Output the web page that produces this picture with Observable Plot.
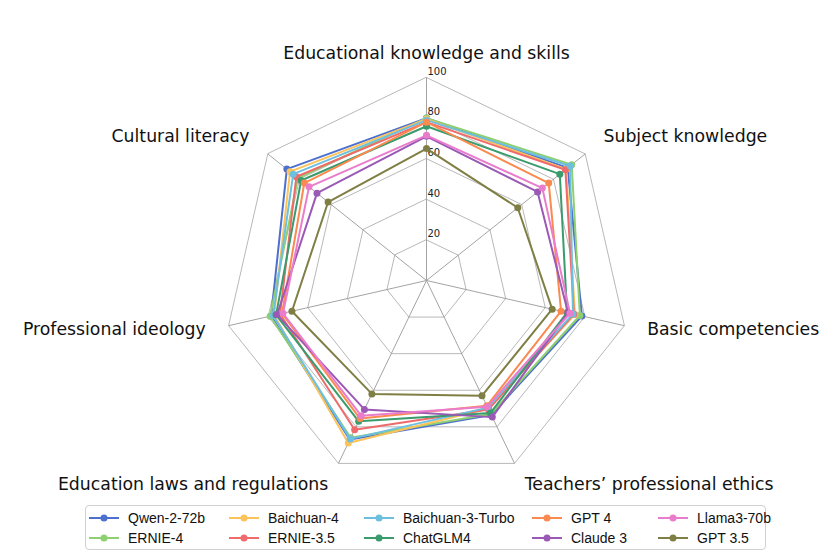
<!DOCTYPE html>
<html>
<head>
<meta charset="utf-8">
<script src="https://cdn.jsdelivr.net/npm/d3@7"></script>
<script src="https://cdn.jsdelivr.net/npm/@observablehq/plot@0.6"></script>
<style>
  html, body { margin: 0; padding: 0; background: #fff; }
  #wrap { width: 830px; height: 554px; position: relative; }
  #legend {
    position: absolute; left: 85px; top: 505px; width: 681px; height: 45px;
    box-sizing: border-box; border: 1px solid #d0d0d0; border-radius: 4px;
    display: grid; grid-template-rows: 20px 20px; grid-auto-flow: column;
    grid-template-columns: 140px 135px 168px 126px auto;
    padding: 2px 0 0 3px; font-family: "Liberation Sans", Arial, sans-serif; font-size: 14px; color: #111;
  }
  .item { display: flex; align-items: center; white-space: nowrap; }
  .item svg { margin-right: 9px; }
</style>
</head>
<body>
<div id="wrap"><div id="chart"></div><div id="legend"></div></div>
<script>
const axesLabels = ["Educational knowledge and skills", "Subject knowledge", "Basic competencies",
  "Teachers’ professional ethics", "Education laws and regulations", "Professional ideology", "Cultural literacy"];
const models = ["Qwen-2-72b", "ERNIE-4", "Baichuan-4", "ERNIE-3.5", "Baichuan-3-Turbo",
  "ChatGLM4", "GPT 4", "Claude 3", "Llama3-70b", "GPT 3.5"];
const colors = ["#4d6fce", "#8ed070", "#fbc35a", "#ef6b6b", "#6dbfdf",
  "#3a9b6c", "#fb8a50", "#9b59b6", "#ea7ccc", "#7f7f45"];
const qwen      = [80, 89, 78.5, 73.5, 87, 78.5, 88];
const ernie4    = [80, 91.5, 77.5, 73, 86, 79, 81];
const baichuan4 = [79.5, 88, 75, 70, 88.8, 77, 86];
const ernie35   = [78, 87.5, 74.5, 70.5, 81.6, 74, 82];
const baichuan3 = [79, 90.5, 74, 69.5, 86.6, 77.5, 84];
const chatglm4  = [76, 84, 71, 72.5, 77, 76, 79];
const gpt4      = [78, 77, 68, 68.5, 75.5, 73, 77];
const claude3   = [71, 70, 71.5, 74.7, 70.5, 75.5, 69];
const llama3    = [71.5, 73, 72.5, 69, 74, 72.5, 74];
const gpt35     = [65, 57.5, 63.5, 63, 62, 68, 62];
const ticks = [20, 40, 60, 80, 100];

const seriesValues = [qwen, ernie4, baichuan4, ernie35, baichuan3, chatglm4, gpt4, claude3, llama3, gpt35];
const n = axesLabels.length;
const ang = i => i * 2 * Math.PI / n;
const px = (v, i) => v * Math.sin(ang(i));
const py = (v, i) => v * Math.cos(ang(i));

const rings = ticks.flatMap(t => d3.range(n).map(i => ({t, x: px(t, i), y: py(t, i)})));
const spokes = d3.range(n).map(i => ({x: px(100, i), y: py(100, i)}));
const labels = axesLabels.map((name, i) => ({name, i, x: px(111.5, i), y: py(112.5, i), s: Math.sin(ang(i))}));

const seriesMarks = models.flatMap((m, k) => {
  const pts = seriesValues[k].map((v, i) => ({model: m, x: px(v, i), y: py(v, i)}));
  return [
    Plot.line(pts, {x: "x", y: "y", stroke: "model", strokeWidth: 2, curve: "linear-closed"}),
    Plot.dot(pts, {x: "x", y: "y", fill: "model", r: 3.5})
  ];
});

const chart = Plot.plot({
  width: 830, height: 500, margin: 0,
  style: {fontFamily: "DejaVu Sans", background: "#fff"},
  x: {domain: [-100, 100], range: [223, 629], axis: null},
  y: {domain: [-100, 100], range: [483, 77], axis: null},
  color: {domain: models, range: colors},
  marks: [
    Plot.line(rings, {x: "x", y: "y", z: "t", curve: "linear-closed", stroke: "#b0b0b0", strokeWidth: 0.9}),
    Plot.link(spokes, {x1: 0, y1: 0, x2: "x", y2: "y", stroke: "#999", strokeWidth: 0.9}),
    Plot.text(ticks, {x: 0, y: d => d, text: d => String(d), textAnchor: "start", dx: 1, dy: -6, fontSize: 10, fill: "#222"}),
    ...seriesMarks,
    Plot.text(labels.filter(d => Math.abs(d.s) < 0.01), {x: "x", y: "y", text: "name", textAnchor: "middle", fontSize: 17.3, dy: 1, fill: "#111"}),
    Plot.text(labels.filter(d => d.s > 0.01), {x: "x", y: "y", text: "name", textAnchor: "start", fontSize: 17.3, dy: -2, fill: "#111"}),
    Plot.text(labels.filter(d => d.s < -0.01), {x: "x", y: "y", text: "name", textAnchor: "end", fontSize: 17.3, dy: -2, fill: "#111"})
  ]
});
document.getElementById("chart").appendChild(chart);

const leg = document.getElementById("legend");
models.forEach((m, k) => {
  const div = document.createElement("div");
  div.className = "item";
  div.innerHTML = `<svg width="30" height="10"><line x1="0" y1="5" x2="30" y2="5" stroke="${colors[k]}" stroke-width="2"/><circle cx="15" cy="5" r="3.5" fill="${colors[k]}"/></svg><span>${m}</span>`;
  leg.appendChild(div);
});
</script>
</body>
</html>
